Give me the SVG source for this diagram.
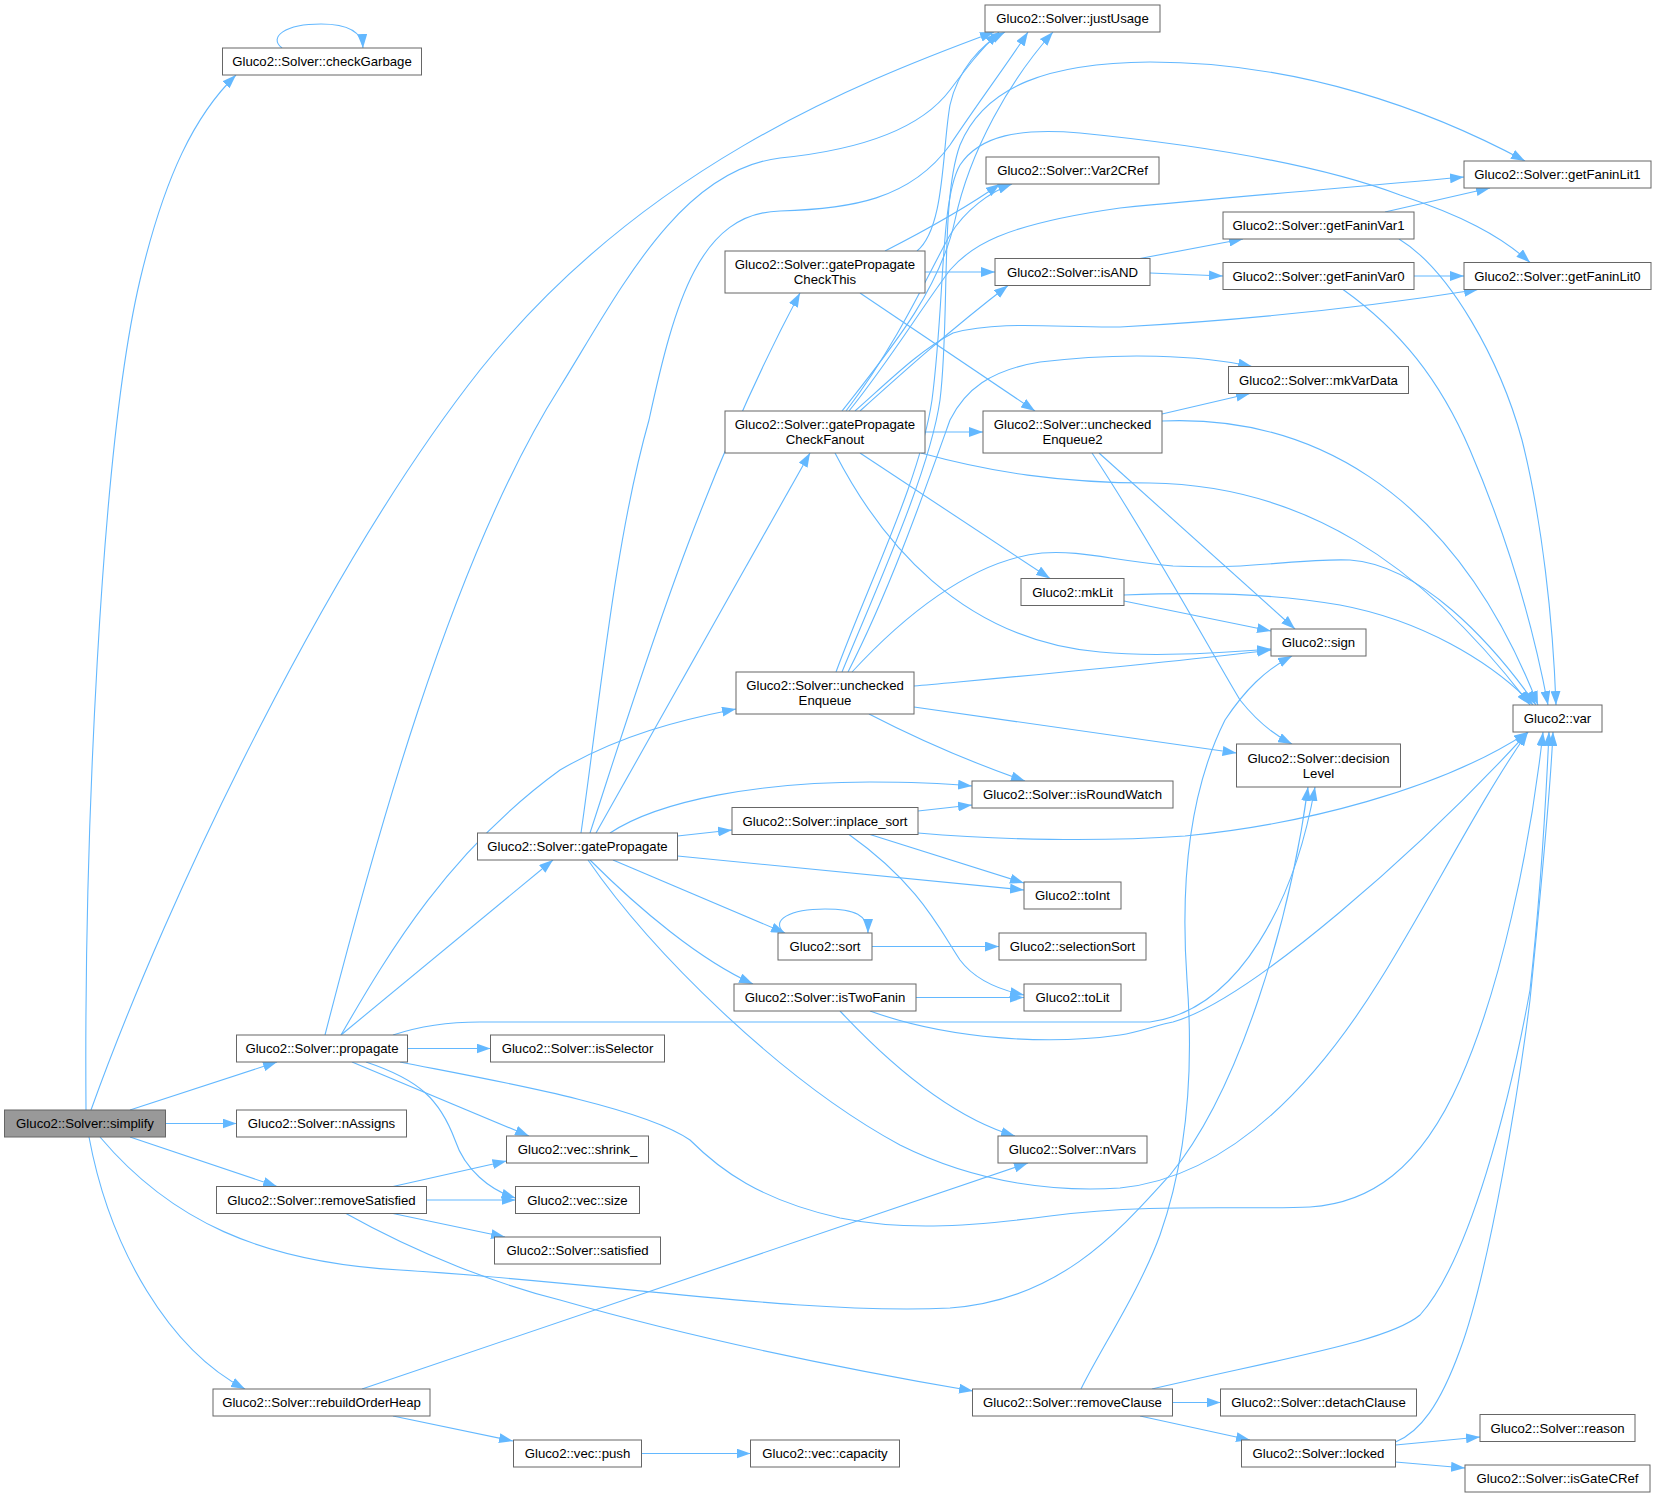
<svg xmlns="http://www.w3.org/2000/svg" width="1656" height="1497" viewBox="0 0 1656 1497">
<defs>
<marker id="ah" markerUnits="userSpaceOnUse" markerWidth="14" markerHeight="10" refX="14" refY="5" orient="auto"><path d="M0,0 L14,5 L0,10 z" fill="#63b8ff"/></marker>
<style>
.n rect{fill:#fff;stroke:#666;stroke-width:1}
.n.root rect{fill:#999}
.n text{font-family:"Liberation Sans",Arial,sans-serif;font-size:13.2px;text-anchor:middle;fill:#000}
.e path{fill:none;stroke:#63b8ff;stroke-width:1.1;marker-end:url(#ah)}
</style>
</defs>
<rect width="1656" height="1497" fill="#fff"/>
<g id="edges" class="e">
<path d="M86,1110 C84,850 100,450 140,280 C165,175 195,115 236,75"/>
<path d="M282,48 C268,37 285,24 321,24 C343,24 362,29 363,48"/>
<path d="M91,1110 C170,890 330,560 480,370 C640,170 850,85 994,32"/>
<path d="M130,1110 L277,1062"/>
<path d="M165.5,1123.5 L236.5,1123.5"/>
<path d="M130,1137 L277,1186.5"/>
<path d="M89,1137 C110,1250 170,1350 245,1389"/>
<path d="M100,1137 C170,1220 260,1262 400,1270 C600,1282 800,1315 950,1308 C1060,1300 1120,1230 1170,1175 C1240,1090 1290,920 1308,787"/>
<path d="M325,1035 C370,860 450,560 560,387 C620,290 680,170 780,158 C860,150 920,130 950,90 C965,70 980,50 999,32"/>
<path d="M341,1035 L553,860"/>
<path d="M341,1035 C390,950 450,850 560,770 C620,735 680,720 736,709"/>
<path d="M407.5,1048.5 L490.5,1048.5"/>
<path d="M352,1062 L529,1136"/>
<path d="M366,1062 C420,1080 440,1100 455,1140 C465,1170 490,1190 515.5,1198"/>
<path d="M393,1035 C420,1026 450,1022 480,1022 L1150,1022 C1240,1010 1295,900 1315,787"/>
<path d="M400,1062 C480,1078 640,1105 690,1140 C720,1170 760,1200 840,1218 C900,1230 960,1228 1050,1216 C1150,1203 1250,1210 1310,1207 C1370,1203 1420,1170 1460,1080 C1500,990 1530,850 1543,732"/>
<path d="M393,1186.5 L506.5,1161"/>
<path d="M426.5,1200 L515.5,1200"/>
<path d="M393,1213.5 L505,1237"/>
<path d="M346,1213.5 C420,1255 500,1285 560,1300 C700,1340 850,1370 973,1391"/>
<path d="M362,1389 L1028,1163"/>
<path d="M393,1416 L513,1441"/>
<path d="M641.5,1453.5 L750.5,1453.5"/>
<path d="M581,833 C600,700 615,540 649,420 C675,300 700,213 780,211 C850,209 910,200 950,145 C980,100 1010,60 1028,32"/>
<path d="M590,833 C640,680 700,480 800,293"/>
<path d="M596,833 L810,453"/>
<path d="M610,833 C660,800 760,782 870,782 C920,782 950,784 972,786"/>
<path d="M677.5,836 L732,830"/>
<path d="M677.5,856 L1024,890"/>
<path d="M613,860 L785,933"/>
<path d="M590,860 C640,910 700,960 753,984"/>
<path d="M588,860 C650,950 780,1080 900,1145 C980,1185 1060,1192 1120,1188 C1200,1180 1290,1125 1380,980 C1430,900 1480,800 1528,732"/>
<path d="M917,251 C945,228 942,150 950,105 C958,70 980,45 1005,32"/>
<path d="M885,251 C930,228 970,205 1000,184"/>
<path d="M925,272 L995,272"/>
<path d="M860,293 L1035,411"/>
<path d="M842,411 C890,350 940,290 955,220 C970,150 1010,80 1053,32"/>
<path d="M846,411 C900,340 930,270 950,235 C965,210 990,192 1012,184"/>
<path d="M860,411 C900,375 950,330 1008,285.5"/>
<path d="M849,411 C890,360 920,310 950,270 C970,247 1000,225 1120,208 C1250,195 1380,185 1464,177"/>
<path d="M855,411 C890,380 920,350 953,333 C1000,320 1060,328 1120,327 C1250,320 1380,305 1478,289.5"/>
<path d="M925,432 L983,432"/>
<path d="M860,453 L1050,578.5"/>
<path d="M835,453 C880,540 960,640 1100,652 C1150,657 1210,654 1271,649"/>
<path d="M921,453 C990,472 1060,483 1150,483 C1300,485 1420,560 1530,705"/>
<path d="M842,672 C880,580 930,470 940,400 C950,320 940,200 960,145 C985,85 1050,63 1150,62 C1300,62 1430,110 1525,161"/>
<path d="M836,672 C870,580 920,480 932,400 C945,300 940,200 960,165 C980,135 1020,128 1080,133 C1200,145 1320,165 1400,195 C1460,215 1500,235 1530,262.5"/>
<path d="M848,672 C890,590 925,490 950,420 C965,390 990,370 1040,362 C1120,352 1200,355 1252,366.5"/>
<path d="M852,672 C900,620 970,560 1042,553 C1080,550 1110,560 1173,566 C1250,570 1300,558 1350,560 C1420,565 1490,640 1536,705"/>
<path d="M914,686 C1000,678 1150,665 1271,650"/>
<path d="M914,707 L1236.5,753"/>
<path d="M869,714 C900,730 950,755 1025,781"/>
<path d="M1162,414 L1250,393.5"/>
<path d="M1162,421 C1300,415 1450,480 1538,705"/>
<path d="M1099,453 L1295,629"/>
<path d="M1092,453 C1150,540 1210,650 1240,700 C1260,725 1280,738 1292,744"/>
<path d="M1140,258.5 L1243,239"/>
<path d="M1150,273 L1223,276"/>
<path d="M1385,212 L1490,188"/>
<path d="M1399,239 C1450,270 1500,360 1522,440 C1542,520 1553,620 1556,705"/>
<path d="M1414,276 L1464,276"/>
<path d="M1343,289.5 C1400,330 1440,380 1470,450 C1500,520 1530,610 1548,705"/>
<path d="M1124,601 L1271,631"/>
<path d="M1124,595 C1200,592 1270,593 1340,605 C1420,620 1490,660 1533,705"/>
<path d="M918,811 L972,805"/>
<path d="M870,834.5 L1024,883"/>
<path d="M849,834.5 C920,885 940,930 960,960 C975,980 1000,990 1024,995"/>
<path d="M918,833 C1000,840 1100,842 1185,836 C1300,825 1440,790 1528,732"/>
<path d="M784,933 C770,920 790,909 825,909 C855,909 868,915 868,933"/>
<path d="M872,946.5 L999,946.5"/>
<path d="M916,997.5 L1024,997.5"/>
<path d="M840,1011 C900,1075 960,1120 1015,1136"/>
<path d="M870,1011 C950,1040 1050,1045 1120,1035 C1140,1032 1160,1024 1173,1022 C1250,1000 1420,850 1528,732"/>
<path d="M1172.5,1402.5 L1220.5,1402.5"/>
<path d="M1140,1416 L1250,1440"/>
<path d="M1152,1389 C1300,1355 1390,1340 1420,1315 C1470,1260 1510,1100 1530,990 C1540,900 1546,800 1549,732"/>
<path d="M1081,1389 C1100,1350 1140,1290 1160,1235 C1190,1150 1193,1060 1187,980 C1180,880 1190,790 1225,720 C1245,690 1265,670 1292,656"/>
<path d="M1395.5,1445 L1480,1437"/>
<path d="M1395.5,1462 L1465,1468"/>
<path d="M1395.5,1442 C1420,1432 1440,1405 1460,1350 C1490,1270 1520,1080 1530,1000 C1540,900 1550,800 1553,732"/>
</g>
<g id="n_simplify" class="n root"><rect x="4.5" y="1110" width="161" height="27"/><text x="85" y="1128.1">Gluco2::Solver::simplify</text></g>
<g id="n_checkGarbage" class="n"><rect x="222.5" y="48" width="199" height="27"/><text x="322" y="66.1">Gluco2::Solver::checkGarbage</text></g>
<g id="n_propagate" class="n"><rect x="236.5" y="1035" width="171" height="27"/><text x="322" y="1053.1">Gluco2::Solver::propagate</text></g>
<g id="n_nAssigns" class="n"><rect x="236.5" y="1110" width="170" height="27"/><text x="321.5" y="1128.1">Gluco2::Solver::nAssigns</text></g>
<g id="n_removeSatisfied" class="n"><rect x="216.5" y="1186.5" width="210" height="27"/><text x="321.5" y="1204.6">Gluco2::Solver::removeSatisfied</text></g>
<g id="n_rebuildOrderHeap" class="n"><rect x="213" y="1389" width="217" height="27"/><text x="321.5" y="1407.1">Gluco2::Solver::rebuildOrderHeap</text></g>
<g id="n_gatePropagate" class="n"><rect x="477.5" y="833" width="200" height="27"/><text x="577.5" y="851.1">Gluco2::Solver::gatePropagate</text></g>
<g id="n_isSelector" class="n"><rect x="490.5" y="1035" width="174" height="27"/><text x="577.5" y="1053.1">Gluco2::Solver::isSelector</text></g>
<g id="n_shrink" class="n"><rect x="506.5" y="1136" width="142" height="27"/><text x="577.5" y="1154.1">Gluco2::vec::shrink_</text></g>
<g id="n_size" class="n"><rect x="515.5" y="1186.5" width="124" height="27"/><text x="577.5" y="1204.6">Gluco2::vec::size</text></g>
<g id="n_satisfied" class="n"><rect x="494.5" y="1237" width="166" height="27"/><text x="577.5" y="1255.1">Gluco2::Solver::satisfied</text></g>
<g id="n_push" class="n"><rect x="513.5" y="1440" width="128" height="27"/><text x="577.5" y="1458.1">Gluco2::vec::push</text></g>
<g id="n_checkThis" class="n"><rect x="725" y="251" width="200" height="42"/><text x="825" y="269">Gluco2::Solver::gatePropagate</text><text x="825" y="284">CheckThis</text></g>
<g id="n_checkFanout" class="n"><rect x="725" y="411" width="200" height="42"/><text x="825" y="429">Gluco2::Solver::gatePropagate</text><text x="825" y="444">CheckFanout</text></g>
<g id="n_uncheckedEnqueue" class="n"><rect x="736" y="672" width="178" height="42"/><text x="825" y="690">Gluco2::Solver::unchecked</text><text x="825" y="705">Enqueue</text></g>
<g id="n_inplace_sort" class="n"><rect x="732" y="807.5" width="186" height="27"/><text x="825" y="825.6">Gluco2::Solver::inplace_sort</text></g>
<g id="n_sort" class="n"><rect x="778" y="933" width="94" height="27"/><text x="825" y="951.1">Gluco2::sort</text></g>
<g id="n_isTwoFanin" class="n"><rect x="734" y="984" width="182" height="27"/><text x="825" y="1002.1">Gluco2::Solver::isTwoFanin</text></g>
<g id="n_capacity" class="n"><rect x="750.5" y="1440" width="149" height="27"/><text x="825" y="1458.1">Gluco2::vec::capacity</text></g>
<g id="n_justUsage" class="n"><rect x="985" y="5" width="175" height="27"/><text x="1072.5" y="23.1">Gluco2::Solver::justUsage</text></g>
<g id="n_var2CRef" class="n"><rect x="986" y="157" width="173" height="27"/><text x="1072.5" y="175.1">Gluco2::Solver::Var2CRef</text></g>
<g id="n_isAND" class="n"><rect x="995" y="258.5" width="155" height="27"/><text x="1072.5" y="276.6">Gluco2::Solver::isAND</text></g>
<g id="n_uncheckedEnqueue2" class="n"><rect x="983" y="411" width="179" height="42"/><text x="1072.5" y="429">Gluco2::Solver::unchecked</text><text x="1072.5" y="444">Enqueue2</text></g>
<g id="n_mkLit" class="n"><rect x="1021" y="578.5" width="103" height="27"/><text x="1072.5" y="596.6">Gluco2::mkLit</text></g>
<g id="n_isRoundWatch" class="n"><rect x="972" y="781" width="201" height="27"/><text x="1072.5" y="799.1">Gluco2::Solver::isRoundWatch</text></g>
<g id="n_toInt" class="n"><rect x="1024" y="882" width="97" height="27"/><text x="1072.5" y="900.1">Gluco2::toInt</text></g>
<g id="n_selectionSort" class="n"><rect x="999" y="933" width="147" height="27"/><text x="1072.5" y="951.1">Gluco2::selectionSort</text></g>
<g id="n_toLit" class="n"><rect x="1024" y="984" width="97" height="27"/><text x="1072.5" y="1002.1">Gluco2::toLit</text></g>
<g id="n_nVars" class="n"><rect x="998" y="1136" width="149" height="27"/><text x="1072.5" y="1154.1">Gluco2::Solver::nVars</text></g>
<g id="n_removeClause" class="n"><rect x="972.5" y="1389" width="200" height="27"/><text x="1072.5" y="1407.1">Gluco2::Solver::removeClause</text></g>
<g id="n_getFaninVar1" class="n"><rect x="1223" y="212" width="191" height="27"/><text x="1318.5" y="230.1">Gluco2::Solver::getFaninVar1</text></g>
<g id="n_getFaninVar0" class="n"><rect x="1223" y="262.5" width="191" height="27"/><text x="1318.5" y="280.6">Gluco2::Solver::getFaninVar0</text></g>
<g id="n_mkVarData" class="n"><rect x="1228.5" y="366.5" width="180" height="27"/><text x="1318.5" y="384.6">Gluco2::Solver::mkVarData</text></g>
<g id="n_sign" class="n"><rect x="1271" y="629" width="95" height="27"/><text x="1318.5" y="647.1">Gluco2::sign</text></g>
<g id="n_decisionLevel" class="n"><rect x="1236.5" y="744" width="164" height="43"/><text x="1318.5" y="762.5">Gluco2::Solver::decision</text><text x="1318.5" y="777.5">Level</text></g>
<g id="n_detachClause" class="n"><rect x="1220.5" y="1389" width="196" height="27"/><text x="1318.5" y="1407.1">Gluco2::Solver::detachClause</text></g>
<g id="n_locked" class="n"><rect x="1241.5" y="1440" width="154" height="27"/><text x="1318.5" y="1458.1">Gluco2::Solver::locked</text></g>
<g id="n_getFaninLit1" class="n"><rect x="1464" y="161" width="187" height="27"/><text x="1557.5" y="179.1">Gluco2::Solver::getFaninLit1</text></g>
<g id="n_getFaninLit0" class="n"><rect x="1464" y="262.5" width="187" height="27"/><text x="1557.5" y="280.6">Gluco2::Solver::getFaninLit0</text></g>
<g id="n_var" class="n"><rect x="1513" y="705" width="89" height="27"/><text x="1557.5" y="723.1">Gluco2::var</text></g>
<g id="n_reason" class="n"><rect x="1480" y="1414.5" width="155" height="27"/><text x="1557.5" y="1432.6">Gluco2::Solver::reason</text></g>
<g id="n_isGateCRef" class="n"><rect x="1465" y="1465" width="185" height="27"/><text x="1557.5" y="1483.1">Gluco2::Solver::isGateCRef</text></g>
</svg>
